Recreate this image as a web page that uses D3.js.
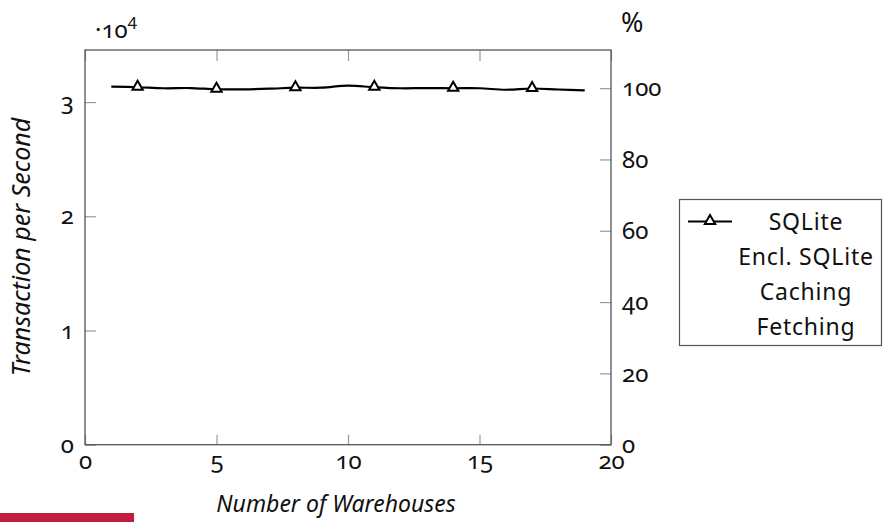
<!DOCTYPE html>
<html>
<head>
<meta charset="utf-8">
<script src="https://cdn.jsdelivr.net/npm/d3@7"></script>
<style>
  html, body { margin: 0; padding: 0; background: #fff; }
  svg { display: block; }
  text { font-family: "Noto Sans", "Open Sans", sans-serif; font-variant-numeric: oldstyle-nums; fill: #111; }
</style>
</head>
<body>
<svg id="chart" width="884" height="522"></svg>
<script>
// Warehouses on the x axis
const warehouses = [1, 2, 3, 4, 5, 6, 7, 8, 9, 10, 11, 12, 13, 14, 15, 16, 17, 18, 19];
// SQLite throughput (transactions per second)
const sqliteTps = [31350, 31300, 31210, 31230, 31120, 31120, 31170, 31260, 31260, 31440,
                   31300, 31210, 31230, 31210, 31210, 31080, 31190, 31100, 31020];
// Marks every third point
const markerEvery = 3;
const markerOffset = 1;

const legendEntries = ["SQLite", "Encl. SQLite", "Caching", "Fetching"];

const xTicks = [0, 5, 10, 15, 20];
const yLeftTicks = [0, 10000, 20000, 30000];
const yRightTicks = [0, 20, 40, 60, 80, 100];

const svg = d3.select("#chart");

const plotLeft = 85, plotRight = 611, plotTop = 50, plotBottom = 444.7;

const x = d3.scaleLinear().domain([0, 20]).range([plotLeft, plotRight]);
const yL = d3.scaleLinear().domain([0, 34560]).range([plotBottom, plotTop]);
const yR = d3.scaleLinear().domain([0, 110.7]).range([plotBottom, plotTop]);

const tickColor = "#999";
const frameColor = "#555";
const tickFont = 24;

// axes
function styleAxis(g) {
  g.select(".domain").remove();
  g.selectAll(".tick line").attr("stroke", tickColor).attr("stroke-width", 1.2);
  g.selectAll(".tick text").attr("font-size", tickFont).attr("fill", "#111");
}

svg.append("g")
  .attr("transform", `translate(0,${plotBottom})`)
  .call(d3.axisBottom(x).tickValues(xTicks).tickSize(-10).tickPadding(7).tickFormat(d3.format("d")))
  .call(styleAxis);

svg.append("g")
  .attr("transform", `translate(0,${plotTop})`)
  .call(d3.axisTop(x).tickValues(xTicks).tickSize(-11).tickFormat(""))
  .call(styleAxis);

svg.append("g")
  .attr("transform", `translate(${plotLeft},0)`)
  .call(d3.axisLeft(yL).tickValues(yLeftTicks).tickSize(-11).tickPadding(11).tickFormat(d => d / 1e4))
  .call(styleAxis);

svg.append("g")
  .attr("transform", `translate(${plotRight},0)`)
  .call(d3.axisRight(yR).tickValues(yRightTicks).tickSize(-11).tickPadding(11).tickFormat(d3.format("d")))
  .call(styleAxis);

// frame
svg.append("rect")
  .attr("x", plotLeft).attr("y", plotTop)
  .attr("width", plotRight - plotLeft).attr("height", plotBottom - plotTop)
  .attr("fill", "none").attr("stroke", frameColor).attr("stroke-width", 1.3);

// axis multiplier and unit
const mult = svg.append("text").attr("x", 95).attr("y", 38).attr("font-size", tickFont);
mult.append("tspan").text("\u00b710");
mult.append("tspan").attr("font-size", 17).attr("dy", -12).text("4");

svg.append("text").attr("x", 621).attr("y", 32).attr("font-size", 27).text("%");

// axis titles
svg.append("text")
  .attr("transform", `translate(30,247) rotate(-90)`)
  .attr("text-anchor", "middle")
  .attr("font-size", 25)
  .attr("font-style", "italic")
  .text("Transaction per Second");

svg.append("text")
  .attr("x", 336).attr("y", 512)
  .attr("text-anchor", "middle")
  .attr("font-size", 23)
  .attr("font-style", "italic")
  .text("Number of Warehouses");

// SQLite series
const data = warehouses.map((w, i) => ({ x: w, y: sqliteTps[i] }));

const line = d3.line()
  .x(d => x(d.x))
  .y(d => yL(d.y))
  .curve(d3.curveCatmullRom.alpha(0.5));

svg.append("path")
  .datum(data)
  .attr("d", line)
  .attr("fill", "none")
  .attr("stroke", "#000")
  .attr("stroke-width", 2.2);

const tri = d3.symbol().type(d3.symbolTriangle).size(46);

svg.append("g").selectAll("path")
  .data(data.filter((d, i) => i % markerEvery === markerOffset))
  .join("path")
  .attr("d", tri)
  .attr("transform", d => `translate(${x(d.x)},${yL(d.y) - 0.5})`)
  .attr("fill", "#fff")
  .attr("stroke", "#000")
  .attr("stroke-width", 2);

// legend
const legend = svg.append("g");
legend.append("rect")
  .attr("x", 679.5).attr("y", 199.5)
  .attr("width", 202).attr("height", 146)
  .attr("fill", "#fff").attr("stroke", frameColor).attr("stroke-width", 1.2);

legend.append("line")
  .attr("x1", 688).attr("x2", 732).attr("y1", 221.5).attr("y2", 221.5)
  .attr("stroke", "#000").attr("stroke-width", 2.2);
legend.append("path")
  .attr("d", tri)
  .attr("transform", "translate(710,221)")
  .attr("fill", "#fff").attr("stroke", "#000").attr("stroke-width", 2);

legend.selectAll("text.entry")
  .data(legendEntries)
  .join("text")
  .attr("class", "entry")
  .attr("x", 806)
  .attr("y", (d, i) => 229.5 + i * 35.3)
  .attr("text-anchor", "middle")
  .attr("font-size", 23)
  .attr("letter-spacing", 0.8)
  .text(d => d);

// footer band
svg.append("rect")
  .attr("x", 0).attr("y", 513).attr("width", 134).attr("height", 9)
  .attr("fill", "#c01c3c");
</script>
</body>
</html>
